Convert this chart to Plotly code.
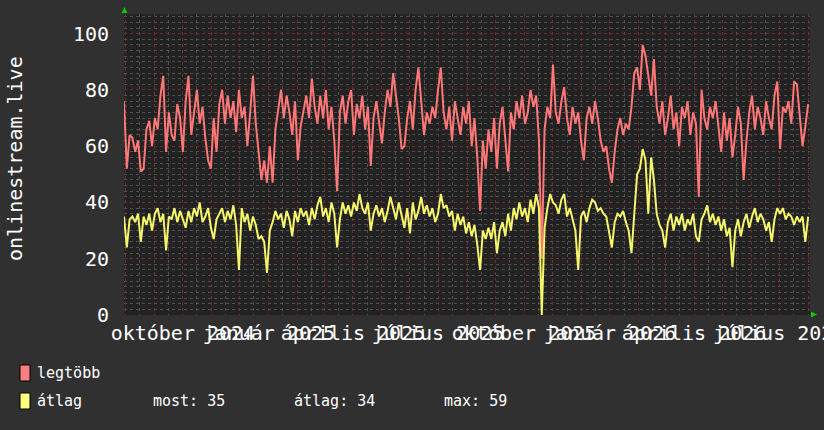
import plotly.graph_objects as go
import pandas as pd

# ---------------- data ----------------
START = "2024-07-30"
STEP_DAYS = 3
RANGE_START = "2024-07-30"
RANGE_END = "2026-08-03"

legtobb = [
    76, 52, 64, 63, 58, 62, 51, 52, 66, 69,
    60, 70, 66, 78, 85, 58, 72, 64, 62, 75,
    70, 58, 76, 85, 64, 72, 80, 68, 74, 63,
    55, 52, 70, 58, 75, 80, 68, 78, 70, 76,
    65, 80, 70, 74, 60, 72, 85, 68, 58, 48,
    55, 47, 60, 47, 66, 74, 80, 70, 78, 72,
    64, 76, 55, 67, 72, 78, 70, 84, 74, 68,
    78, 70, 80, 66, 74, 62, 44, 72, 78, 68,
    76, 80, 64, 75, 70, 78, 66, 74, 53, 70,
    76, 68, 61, 72, 80, 74, 86, 78, 70, 59,
    60, 70, 76, 66, 80, 88, 76, 64, 72, 68,
    74, 70, 80, 88, 72, 66, 74, 62, 76, 70,
    64, 74, 68, 76, 60, 70, 56, 37, 62, 52,
    66, 58, 70, 52, 68, 74, 62, 51, 72, 66,
    76, 70, 78, 68, 72, 80, 74, 78, 62, 20,
    66, 74, 70, 89, 72, 68, 76, 81, 70, 64,
    74, 68, 72, 62, 55, 70, 74, 68, 76, 70,
    62, 58, 60, 52, 47, 58, 66, 70, 64, 68,
    66, 74, 86, 88, 80, 96, 92, 84, 78, 91,
    74, 68, 76, 64, 70, 78, 66, 72, 60, 74,
    70, 76, 64, 72, 68, 42, 80, 70, 66, 74,
    70, 76, 66, 58, 72, 62, 70, 56, 64, 74,
    68, 48, 62, 72, 78, 66, 74, 70, 64, 76,
    70, 66, 78, 83, 59, 74, 72, 76, 68, 83,
    82, 70, 60, 67, 75,
]

atlag = [
    35, 24, 34, 35, 33, 36, 26, 35, 32, 36,
    30, 36, 38, 33, 36, 23, 35, 34, 38, 33,
    37, 34, 31, 37, 33, 38, 35, 40, 33, 35,
    38, 31, 27, 34, 36, 38, 33, 37, 34, 39,
    32, 16, 38, 33, 36, 30, 35, 32, 27, 28,
    26, 15, 30, 33, 37, 34, 36, 31, 37, 34,
    28, 37, 33, 38, 35, 37, 32, 38, 34, 39,
    42, 35, 38, 33, 40, 36, 24, 34, 40, 36,
    39, 35, 40, 37, 43, 38, 36, 40, 30, 36,
    39, 35, 38, 33, 37, 42, 38, 34, 40, 36,
    31, 38, 29, 40, 34, 37, 42, 36, 39, 35,
    38, 33, 36, 43, 38, 39, 35, 37, 30, 36,
    32, 35, 29, 33, 28, 32, 25, 16, 30, 27,
    31, 27, 33, 22, 30, 33, 28, 36, 30, 38,
    34, 40, 35, 38, 33, 41, 36, 43, 38, 0,
    31, 38, 43, 40, 39, 36, 41, 43, 35, 38,
    34, 30, 16, 35, 37, 33, 38, 41, 40, 37,
    38, 36, 35, 30, 24, 33, 36, 35, 37, 33,
    30, 22, 36, 50, 52, 59, 55, 36, 56, 48,
    36, 32, 30, 24, 33, 36, 30, 35, 32, 36,
    30, 34, 32, 36, 28, 26, 34, 36, 39, 33,
    36, 32, 35, 30, 34, 28, 31, 17, 30, 34,
    28, 33, 36, 31, 35, 38, 33, 36, 34, 30,
    33, 26, 34, 38, 36, 38, 34, 36, 35, 32,
    35, 33, 35, 26, 35,
]

MONTHS_HU = ["január", "február", "március", "április", "május", "június",
             "július", "augusztus", "szeptember", "október", "november", "december"]
LABEL_MONTHS = [1, 4, 7, 10]
Y_TITLE = "onlinestream.live"
SERIES_NAMES = ["legtöbb", "átlag"]
STATS_LABELS = ["most: 35", "átlag: 34", "max: 59"]

# ---------------- styling ----------------
W, H = 824, 430
ML, MR, MT, MB = 124, 14, 14, 115
PW, PH = W - ML - MR, H - MT - MB
BG = "#303030"
PLOT_BG = "#222222"
RED = "#ff7777"
YEL = "#f6f66c"
RED_SW = "#ff8080"
YEL_SW = "#ffff80"
MONO = "DejaVu Sans Mono"
MAJOR_GRID = "rgba(125,45,45,0.9)"
MINOR_GRID = "rgba(100,100,100,0.7)"


def px2x(px):
    return (px - ML) / PW


def px2y(py):
    return (H - MB - py) / PH


dates = pd.date_range(START, periods=len(legtobb), freq=f"{STEP_DAYS}D")
month_starts = pd.date_range("2024-08-01", "2026-08-01", freq="MS")
ticktext = [f"{MONTHS_HU[d.month - 1]} {d.year}" if d.month in LABEL_MONTHS else ""
            for d in month_starts]

fig = go.Figure()
fig.add_trace(go.Scatter(x=dates, y=legtobb, mode="lines", name=SERIES_NAMES[0],
                         line=dict(color=RED, width=2), showlegend=False))
fig.add_trace(go.Scatter(x=dates, y=atlag, mode="lines", name=SERIES_NAMES[1],
                         line=dict(color=YEL, width=2), showlegend=False))

fig.update_layout(
    width=W, height=H,
    margin=dict(l=ML, r=MR, t=MT, b=MB, autoexpand=False),
    paper_bgcolor=BG, plot_bgcolor=PLOT_BG,
    font=dict(family=MONO, color="#ffffff"),
    showlegend=False,
)

fig.update_xaxes(
    range=[RANGE_START, RANGE_END],
    tickmode="array", tickvals=month_starts, ticktext=ticktext,
    tickangle=0, ticks="", ticklabelstandoff=4, ticklabeloverflow="allow",
    tickfont=dict(family=MONO, size=20, color="#ffffff"),
    showgrid=True, gridcolor=MAJOR_GRID, griddash="dot", gridwidth=1,
    minor=dict(dtick="M1", tick0="2024-07-16", showgrid=True,
               gridcolor=MINOR_GRID, griddash="dot", gridwidth=1),
    showline=False, zeroline=False, fixedrange=True,
)
fig.update_yaxes(
    range=[0, 107], dtick=20, tick0=0,
    ticks="", ticklabelstandoff=14,
    tickfont=dict(family=MONO, size=20, color="#ffffff"),
    showgrid=True, gridcolor=MAJOR_GRID, griddash="dot", gridwidth=1,
    minor=dict(dtick=2, showgrid=True, gridcolor=MINOR_GRID,
               griddash="dot", gridwidth=1),
    showline=False, zeroline=False, fixedrange=True,
)

LEG_FONT = dict(family=MONO, size=15, color="#ffffff")
annotations = [
    dict(text=Y_TITLE, xref="paper", yref="paper", x=px2x(15), y=px2y(159),
         textangle=-90, showarrow=False, xanchor="center", yanchor="middle",
         font=dict(family=MONO, size=20, color="#ffffff")),
    dict(text=SERIES_NAMES[0], xref="paper", yref="paper", x=px2x(35), y=px2y(373),
         showarrow=False, xanchor="left", yanchor="middle", font=LEG_FONT),
    dict(text=SERIES_NAMES[1], xref="paper", yref="paper", x=px2x(35), y=px2y(401),
         showarrow=False, xanchor="left", yanchor="middle", font=LEG_FONT),
]
for lbl, px in zip(STATS_LABELS, [151, 292, 442]):
    annotations.append(dict(text=lbl, xref="paper", yref="paper", x=px2x(px), y=px2y(401),
                            showarrow=False, xanchor="left", yanchor="middle", font=LEG_FONT))

shapes = []
for col, (y0, y1) in zip([RED_SW, YEL_SW], [(365, 381), (393, 409)]):
    shapes.append(dict(type="rect", xref="paper", yref="paper",
                       x0=px2x(20), x1=px2x(30), y0=px2y(y1), y1=px2y(y0),
                       fillcolor=col, line=dict(color="#000000", width=1), layer="above"))


def tri(points):
    p = " L ".join(f"{px2x(a):.5f},{px2y(b):.5f}" for a, b in points)
    return "M " + p + " Z"


shapes.append(dict(type="path", xref="paper", yref="paper",
                   path=tri([(121.5, 13), (127.5, 13), (124.5, 7)]),
                   fillcolor="#00cc00", line=dict(color="#00cc00", width=0), layer="above"))
shapes.append(dict(type="path", xref="paper", yref="paper",
                   path=tri([(811, 311.5), (811, 317.5), (817, 314.5)]),
                   fillcolor="#00cc00", line=dict(color="#00cc00", width=0), layer="above"))

fig.update_layout(annotations=annotations, shapes=shapes)

fig.write_html("out.html")
